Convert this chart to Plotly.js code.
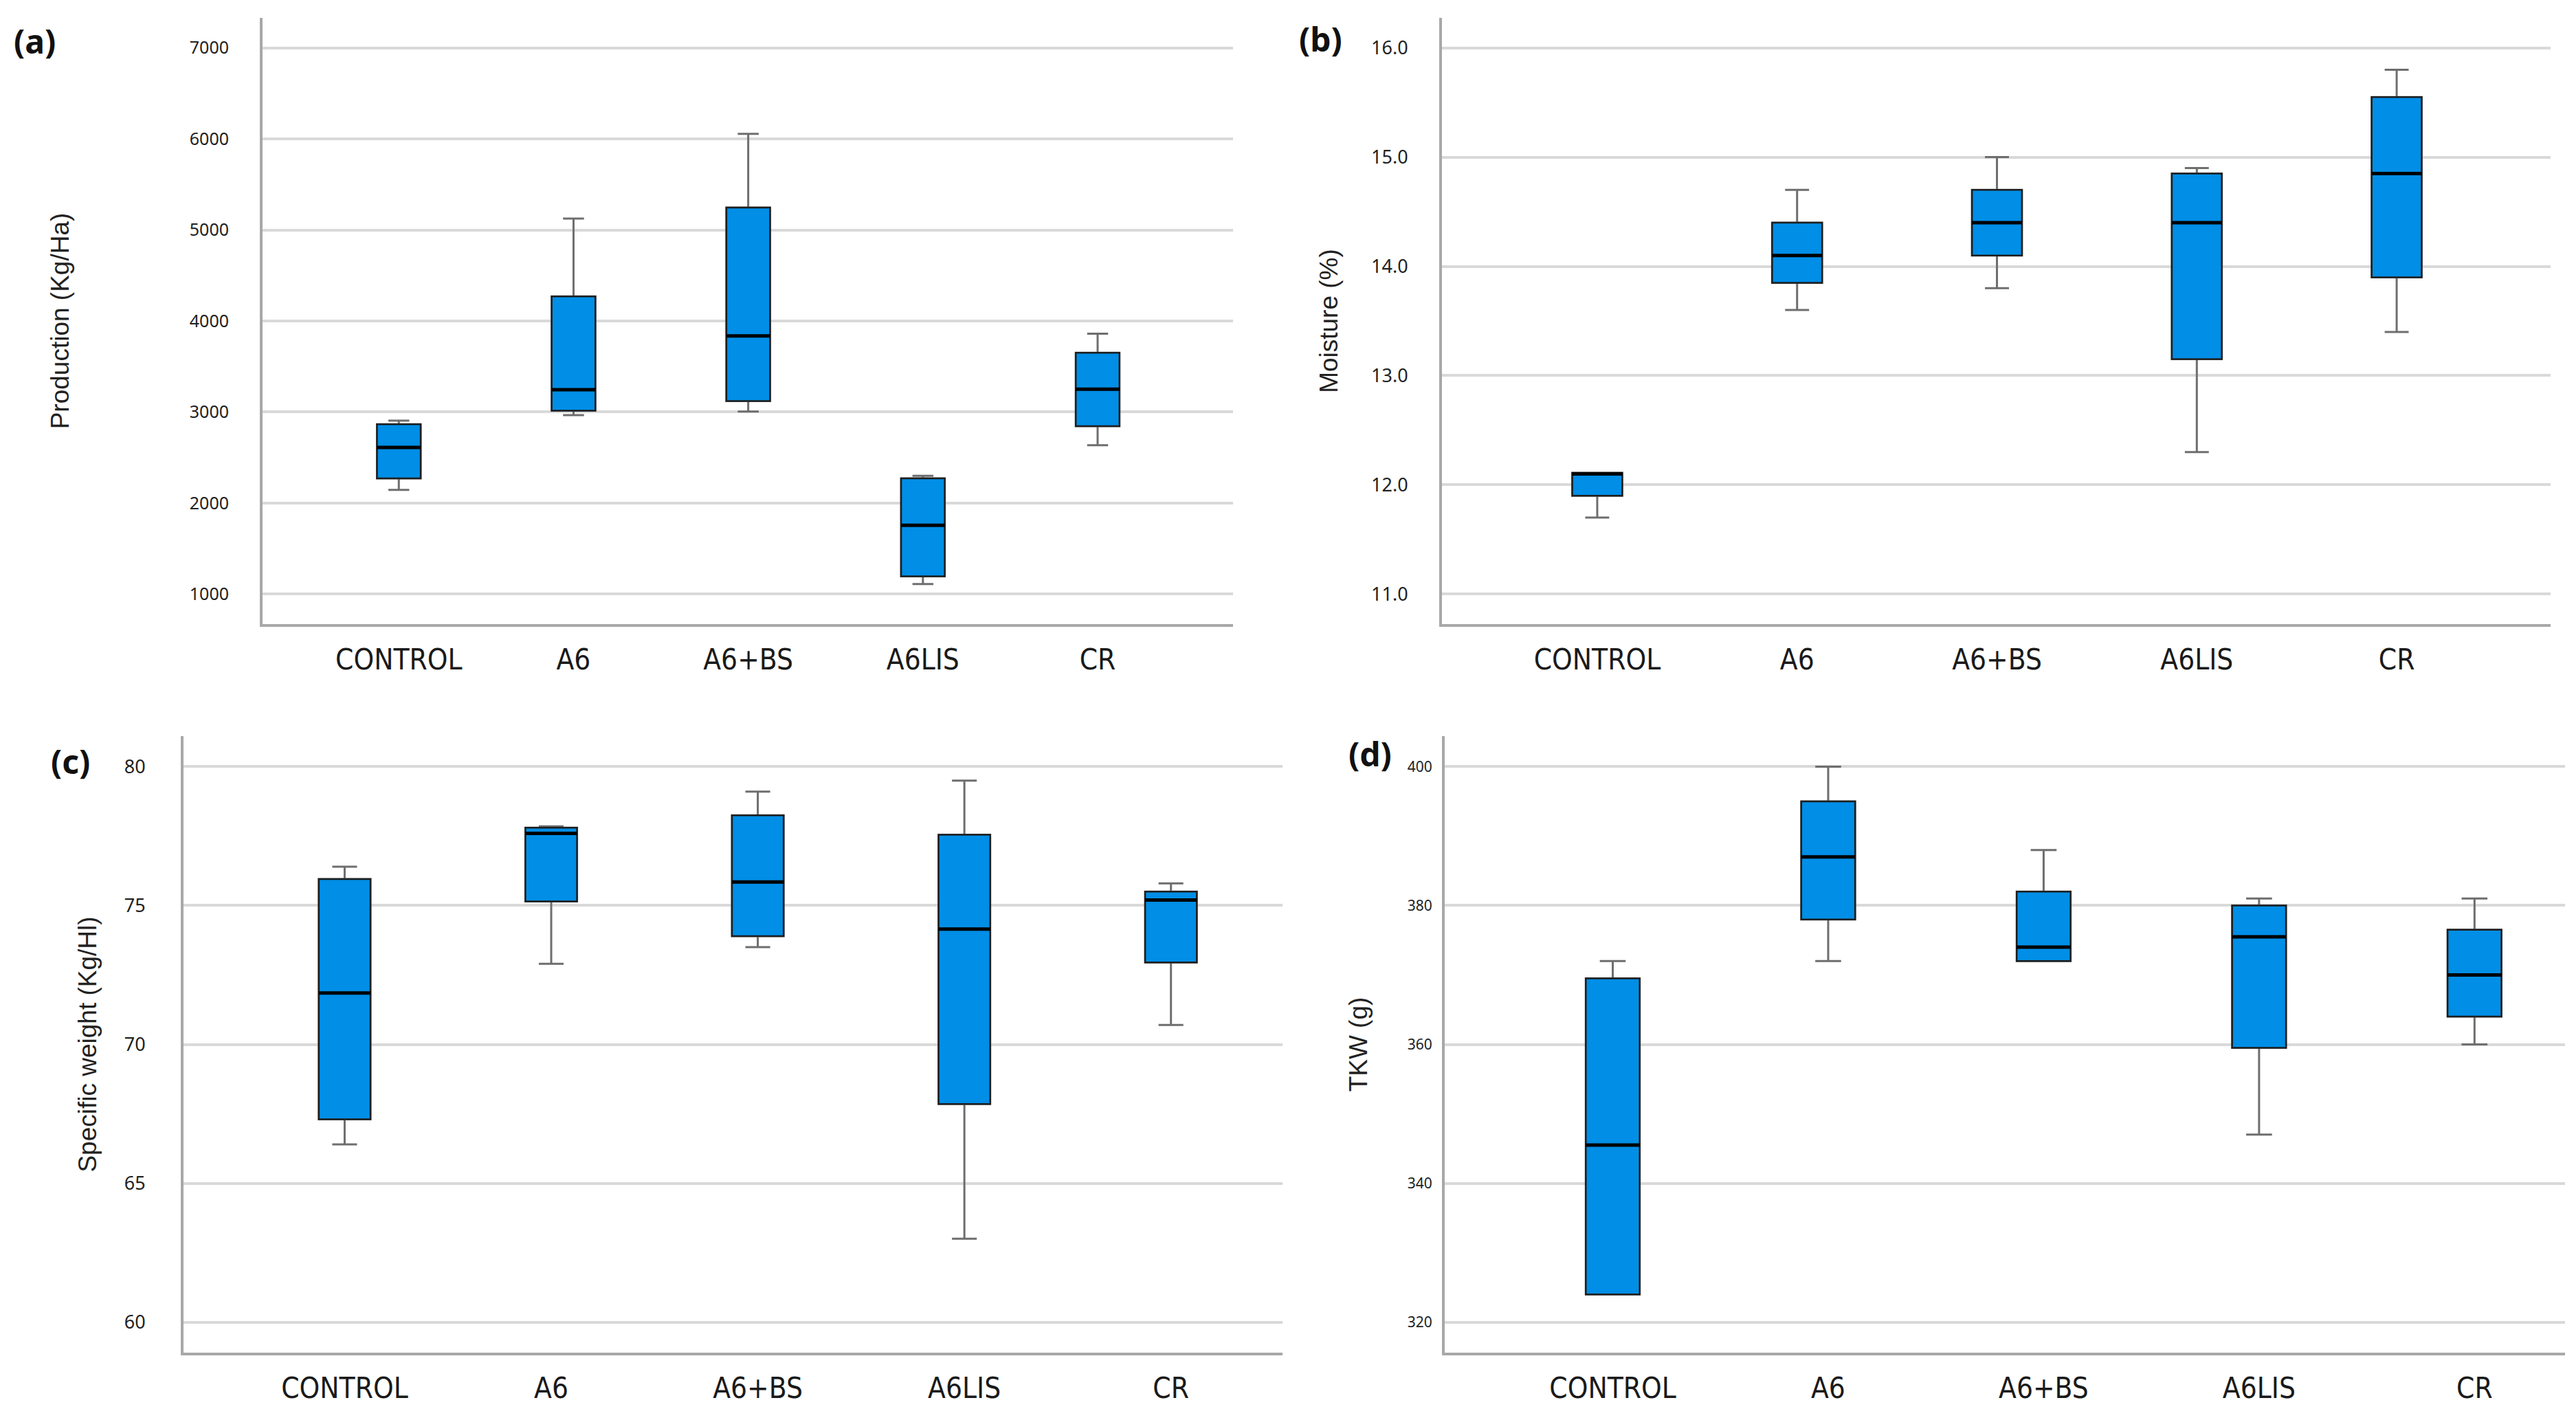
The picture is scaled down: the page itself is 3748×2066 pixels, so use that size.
<!DOCTYPE html>
<html>
<head>
<meta charset="utf-8">
<script src="https://cdn.plot.ly/plotly-3.0.1.min.js"></script>
<style>
html,body{margin:0;padding:0;background:#fff;}
#chart{width:3748px;height:2066px;}
</style>
</head>
<body>
<div id="chart"></div>
<script>
// ---------- data ----------
const categories = ['CONTROL', 'A6', 'A6+BS', 'A6LIS', 'CR'];

const prodLower  = [2145, 2965, 3005, 1110, 2635];
const prodQ1     = [2270, 3015, 3120, 1195, 2845];
const prodMedian = [2610, 3245, 3835, 1755, 3250];
const prodQ3     = [2865, 4270, 5245, 2270, 3650];
const prodUpper  = [2905, 5125, 6055, 2300, 3860];

const moistLower  = [11.70, 13.60, 13.80, 12.30, 13.40];
const moistQ1     = [11.90, 13.85, 14.10, 13.15, 13.90];
const moistMedian = [12.10, 14.10, 14.40, 14.40, 14.85];
const moistQ3     = [12.11, 14.40, 14.70, 14.85, 15.55];
const moistUpper  = [12.11, 14.70, 15.00, 14.90, 15.80];

const swLower  = [66.4, 72.9, 73.5, 63.0, 70.7];
const swQ1     = [67.3, 75.15, 73.9, 67.85, 72.95];
const swMedian = [71.85, 77.6, 75.85, 74.15, 75.2];
const swQ3     = [75.95, 77.8, 78.25, 77.55, 75.5];
const swUpper  = [76.4, 77.85, 79.1, 79.5, 75.8];

const tkwLower  = [324, 372, 372, 347, 360];
const tkwQ1     = [324, 378, 372, 359.5, 364];
const tkwMedian = [345.5, 387, 374, 375.5, 370];
const tkwQ3     = [369.5, 395, 382, 380, 376.5];
const tkwUpper  = [372, 400, 388, 381, 381];

const prodTicks  = [1000, 2000, 3000, 4000, 5000, 6000, 7000];
const moistTicks = [11, 12, 13, 14, 15, 16];
const swTicks    = [60, 65, 70, 75, 80];
const tkwTicks   = [320, 340, 360, 380, 400];

// ---------- styles ----------
const BOX_FILL = '#008EE6';
const BOX_W = 0.25;

function boxTraces(xa, ya, lower, q1, med, q3, upper) {
  const common = {type: 'box', x: categories, xaxis: xa, yaxis: ya, width: BOX_W,
                  boxpoints: false, hoverinfo: 'skip', showlegend: false};
  return [
    // whiskers
    Object.assign({}, common, {q1: q1, median: med, q3: q3, lowerfence: lower, upperfence: upper,
      whiskerwidth: 0.48, fillcolor: BOX_FILL, line: {color: '#6e6e6e', width: 3}}),
    // box body
    Object.assign({}, common, {q1: q1, median: med, q3: q3, lowerfence: q1, upperfence: q3,
      whiskerwidth: 0, fillcolor: BOX_FILL, line: {color: '#1e1e1e', width: 2.5}}),
    // median
    Object.assign({}, common, {q1: med, median: med, q3: med, lowerfence: med, upperfence: med,
      whiskerwidth: 0, fillcolor: 'rgba(0,0,0,0)', line: {color: '#000000', width: 5}})
  ];
}

const data = [].concat(
  boxTraces('x',  'y',  prodLower,  prodQ1,  prodMedian,  prodQ3,  prodUpper),
  boxTraces('x2', 'y2', moistLower, moistQ1, moistMedian, moistQ3, moistUpper),
  boxTraces('x3', 'y3', swLower,    swQ1,    swMedian,    swQ3,    swUpper),
  boxTraces('x4', 'y4', tkwLower,   tkwQ1,   tkwMedian,   tkwQ3,   tkwUpper)
);

const W = 3748, H = 2066;
function xd(a, b) { return [a / W, b / W]; }
function yd(top, bottom) { return [1 - bottom / H, 1 - top / H]; }

function xAxis(dom, range, anchor) {
  return {domain: dom, range: range, anchor: anchor, type: 'category',
    showgrid: false, zeroline: false, showline: true, linecolor: '#a8a8a8', linewidth: 4,
    ticks: '', ticklabelstandoff: 12,
    tickfont: {family: '"DejaVu Sans Condensed", "Liberation Sans Narrow", "Arial Narrow", sans-serif', size: 42, color: '#1a1a1a'}};
}
function yAxis(dom, range, anchor, ticks, fmt, title, standoff, tfs, tso) {
  return {domain: dom, range: range, anchor: anchor, tickmode: 'array', tickvals: ticks,
    tickformat: fmt, showgrid: true, gridcolor: '#d9d9d9', gridwidth: 4,
    zeroline: false, showline: true, linecolor: '#a8a8a8', linewidth: 4,
    ticks: '', ticklabelstandoff: tso,
    tickfont: {family: '"Noto Sans", "Open Sans", sans-serif', size: tfs, color: '#222'},
    title: {text: title, standoff: standoff,
      font: {family: '"Liberation Sans", Arial, sans-serif', size: 37, color: '#222'}}};
}

const labelFont = {family: '"Noto Sans", "Open Sans", sans-serif', size: 48, color: '#111'};
function letter(text, cx, cy) {
  return {text: '<b>' + text + '</b>', xref: 'paper', yref: 'paper', x: cx / W, y: 1 - cy / H,
    xanchor: 'center', yanchor: 'middle', showarrow: false, font: labelFont};
}

const layout = {
  width: W, height: H,
  margin: {l: 0, r: 0, t: 0, b: 0},
  paper_bgcolor: '#ffffff', plot_bgcolor: 'rgba(0,0,0,0)',
  boxmode: 'overlay',
  showlegend: false,
  xaxis:  xAxis(xd(382, 1794),  [-0.78, 4.775], 'y'),
  yaxis:  yAxis(yd(26, 908),    [670, 7330],     'x',  prodTicks,  'd',   'Production (Kg/Ha)', 165, 25, 40),
  xaxis2: xAxis(xd(2098, 3711), [-0.777, 4.77], 'y2'),
  yaxis2: yAxis(yd(26, 908),    [10.725, 16.275], 'x2', moistTicks, '.1f', 'Moisture (%)', 38, 27, 40),
  xaxis3: xAxis(xd(267, 1866),  [-0.78, 4.54],  'y3'),
  yaxis3: yAxis(yd(1071, 1968), [58.9, 81.1],    'x3', swTicks,    'd',   'Specific weight (Kg/Hl)', 30, 27, 46),
  xaxis4: xAxis(xd(2102, 3732), [-0.78, 4.42],  'y4'),
  yaxis4: yAxis(yd(1071, 1968), [315.6, 404.4],  'x4', tkwTicks,   'd',   'TKW (g)', 48, 21, 10),
  annotations: [
    letter('(a)', 50, 59),
    letter('(b)', 1922, 56),
    letter('(c)', 102, 1107),
    letter('(d)', 1993, 1096)
  ]
};

Plotly.newPlot('chart', data, layout, {staticPlot: true, displayModeBar: false});
</script>
</body>
</html>
